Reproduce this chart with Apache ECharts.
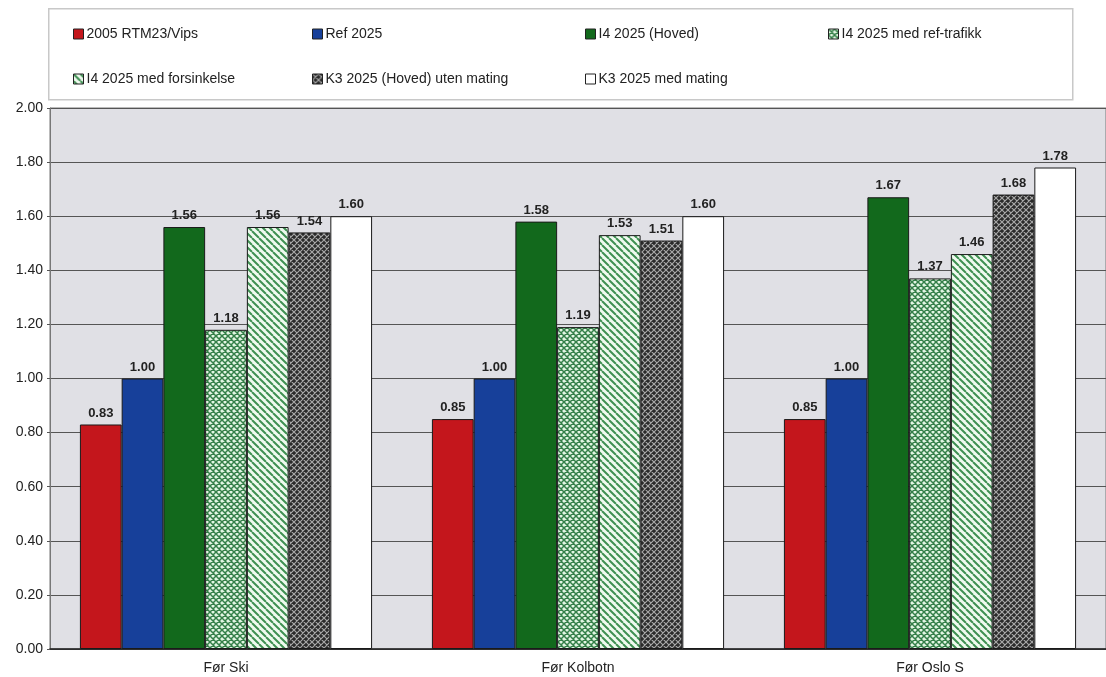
<!DOCTYPE html>
<html>
<head>
<meta charset="utf-8">
<script src="https://cdn.jsdelivr.net/npm/echarts@6/dist/echarts.min.js"></script>
<style>
  html, body { margin: 0; padding: 0; background: #ffffff; }
  #chart { width: 1106px; height: 677px; }
</style>
</head>
<body>
<div id="chart"></div>
<script>
// Categories and series values
const categories = ['Før Ski', 'Før Kolbotn', 'Før Oslo S'];
const seriesNames = [
  '2005 RTM23/Vips',
  'Ref 2025',
  'I4 2025 (Hoved)',
  'I4 2025 med ref-trafikk',
  'I4 2025 med forsinkelse',
  'K3 2025 (Hoved) uten mating',
  'K3 2025 med mating'
];
const rtm2005 = [0.83, 0.85, 0.85];
const ref2025 = [1.00, 1.00, 1.00];
const i4Hoved = [1.56, 1.58, 1.67];
const i4RefTrafikk = [1.18, 1.19, 1.37];
const i4Forsinkelse = [1.56, 1.53, 1.46];
const k3UtenMating = [1.54, 1.51, 1.68];
const k3MedMating = [1.60, 1.60, 1.78];
const yTicks = [0, 0.2, 0.4, 0.6, 0.8, 1.0, 1.2, 1.4, 1.6, 1.8, 2.0];

// Pattern tiles
function tile(size, bg, draw) {
  const c = document.createElement('canvas');
  c.width = size; c.height = size;
  const g = c.getContext('2d');
  g.fillStyle = bg; g.fillRect(0, 0, size, size);
  draw(g, size);
  return c;
}
function diagDown(g, s) {
  for (const k of [-s, 0, s]) { g.moveTo(k, 0); g.lineTo(k + s, s); }
}
function diagUp(g, s) {
  for (const k of [-s, 0, s]) { g.moveTo(k + s, 0); g.lineTo(k, s); }
}
const greenCross = tile(6, '#e2f5e2', (g, s) => {
  g.strokeStyle = '#347f48'; g.lineWidth = 1.5;
  g.beginPath(); diagDown(g, s); diagUp(g, s); g.stroke();
});
const greenStripe = tile(7, '#effaef', (g, s) => {
  g.strokeStyle = '#3f9052'; g.lineWidth = 2;
  g.beginPath(); diagDown(g, s); g.stroke();
});
const darkCross = tile(6, '#2a2a2a', (g, s) => {
  g.strokeStyle = '#a8a8a8'; g.lineWidth = 1.2;
  g.beginPath(); diagDown(g, s); diagUp(g, s); g.stroke();
});

const fills = [
  '#c4161c',
  '#17409a',
  '#12691c',
  { image: greenCross, repeat: 'repeat' },
  { image: greenStripe, repeat: 'repeat' },
  { image: darkCross, repeat: 'repeat' },
  '#ffffff'
];
const values = [rtm2005, ref2025, i4Hoved, i4RefTrafikk, i4Forsinkelse, k3UtenMating, k3MedMating];

const font = 'Liberation Sans, Arial, sans-serif';

// Legend slots (one legend per item to keep a fixed column grid)
const legendSlots = [
  [68, 22], [307, 22], [580, 22], [823, 22],
  [68, 67], [307, 67], [580, 67]
];
const legends = seriesNames.map((name, i) => ({
  data: [name],
  left: legendSlots[i][0],
  top: legendSlots[i][1],
  itemWidth: 10,
  itemHeight: 10,
  itemGap: 3,
  icon: 'rect',
  selectedMode: false,
  itemStyle: { borderColor: '#222', borderWidth: 1 },
  textStyle: { fontFamily: font, fontSize: 14, color: '#222', padding: [0, 0, 0, -2] }
}));

const series = seriesNames.map((name, i) => ({
  name,
  type: 'bar',
  data: values[i],
  barGap: '0%',
  barCategoryGap: '17%',
  itemStyle: { color: fills[i], borderColor: '#1a1a1a', borderWidth: 1 },
  label: {
    show: true,
    position: 'top',
    distance: 5,
    formatter: p => p.value.toFixed(2),
    fontFamily: font,
    fontSize: 13,
    fontWeight: 'bold',
    color: '#222'
  }
}));

const chart = echarts.init(document.getElementById('chart'), null, { renderer: 'canvas' });
chart.setOption({
  animation: false,
  backgroundColor: '#ffffff',
  graphic: [{
    type: 'rect',
    left: 48, top: 8,
    shape: { width: 1024, height: 91 },
    style: { fill: '#ffffff', stroke: '#c8c8c8', lineWidth: 1.5 },
    z: -1
  }],
  legend: legends,
  grid: {
    left: 50, right: 0, top: 108, bottom: 28,
    show: true,
    backgroundColor: '#e0e0e5',
    borderColor: '#777',
    borderWidth: 1
  },
  xAxis: {
    type: 'category',
    data: categories,
    axisLine: { lineStyle: { color: '#222', width: 1.5 } },
    axisTick: { show: false },
    axisLabel: { fontFamily: font, fontSize: 14, color: '#222', margin: 12 }
  },
  yAxis: {
    type: 'value',
    min: yTicks[0],
    max: yTicks[yTicks.length - 1],
    interval: 0.2,
    axisLine: { show: true, lineStyle: { color: '#777' } },
    axisTick: { show: true, length: 3, lineStyle: { color: '#555' } },
    axisLabel: { fontFamily: font, fontSize: 14, color: '#222', margin: 7, formatter: v => v.toFixed(2) },
    splitLine: { lineStyle: { color: '#555', width: 1 } }
  },
  series
});
</script>
</body>
</html>
